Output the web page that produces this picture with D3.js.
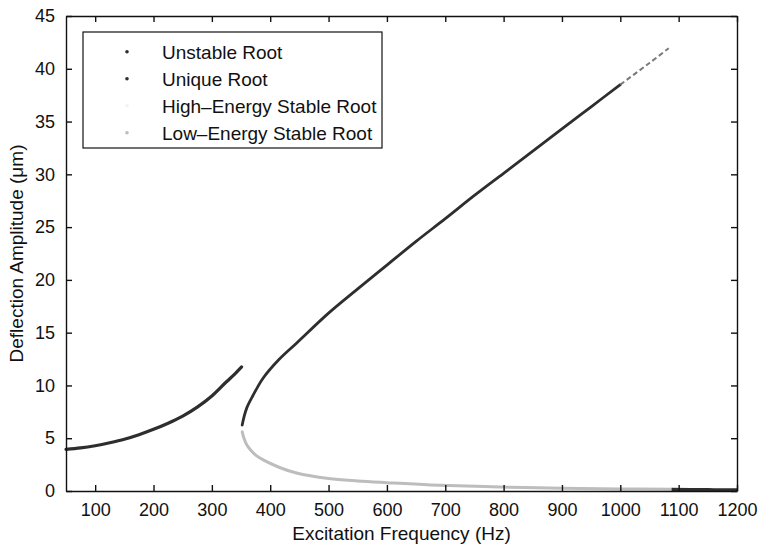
<!DOCTYPE html>
<html>
<head>
<meta charset="utf-8">
<script src="https://cdn.jsdelivr.net/npm/d3@7"></script>
<style>
  html, body { margin: 0; padding: 0; background: #fff; }
  svg { display: block; }
  text { font-family: "Liberation Sans", Arial, Helvetica, sans-serif; fill: #111; }
</style>
</head>
<body>
<svg id="chart" width="760" height="547"></svg>
<script>
// ---------- data ----------
const xTicks = [100, 200, 300, 400, 500, 600, 700, 800, 900, 1000, 1100, 1200];
const yTicks = [0, 5, 10, 15, 20, 25, 30, 35, 40, 45];

const legendLabels = ["Unstable Root", "Unique Root", "High\u2013Energy Stable Root", "Low\u2013Energy Stable Root"];
const seriesColors = ["#2e2e2e", "#2e2e2e", "#f2f2f2", "#bdbdbd"];

// Unique root, left branch (below the jump-up frequency)
const uniqueFreqA = [50, 75, 100, 125, 150, 175, 200, 225, 250, 275, 300, 325, 340, 351];
const uniqueAmpA  = [3.95, 4.08, 4.29, 4.57, 4.9, 5.33, 5.84, 6.42, 7.1, 7.95, 9.0, 10.35, 11.12, 11.75];
// Unique root, right tail (above the jump-down frequency)
const uniqueFreqB = [1088, 1120, 1160, 1200];
const uniqueAmpB  = [0.15, 0.14, 0.12, 0.11];

// Unstable root (dark branch rising from the turning point)
const unstableFreq = [352, 355, 360, 370, 388, 415, 445, 500, 550, 600, 650, 700, 750, 800, 850, 900, 950, 1000, 1050, 1083];
const unstableAmp  = [6.25, 7.0, 7.9, 9.0, 10.7, 12.45, 14.0, 16.85, 19.15, 21.4, 23.65, 25.8, 28.0, 30.1, 32.2, 34.3, 36.4, 38.5, 40.55, 41.95];

// High-energy stable root (printed almost white, not readable in the picture)
const highFreq = [];
const highAmp  = [];

// Low-energy stable root (light grey branch falling from the turning point)
const lowFreq = [352, 355, 360, 366, 375, 388, 415, 445, 500, 550, 600, 675, 780, 900, 1000, 1088];
const lowAmp  = [5.6, 5.0, 4.35, 3.9, 3.4, 2.95, 2.25, 1.7, 1.18, 0.95, 0.79, 0.58, 0.4, 0.27, 0.2, 0.16];

(function () {
// ---------- layout ----------
const svg = d3.select("#chart");
const mLeft = 66, mRight = 737, mTop = 16, mBottom = 491;

const x = d3.scaleLinear().domain([50, 1200]).range([mLeft, mRight]);
const y = d3.scaleLinear().domain([0, 45]).range([mBottom, mTop]);

const zip = (fs, as) => fs.map((f, i) => [f, as[i]]);
const line = d3.line().x(d => x(d[0])).y(d => y(d[1])).curve(d3.curveMonotoneX);
const lineY = d3.line().x(d => x(d[0])).y(d => y(d[1])).curve(d3.curveCatmullRom.alpha(0.5));

const plot = svg.append("g");

// low-energy stable root
plot.append("path").datum(zip(lowFreq, lowAmp))
  .attr("d", lineY).attr("fill", "none")
  .attr("stroke", seriesColors[3]).attr("stroke-width", 3).attr("stroke-linecap", "round");

// high-energy stable root (near white)
if (highFreq.length) {
  plot.append("path").datum(zip(highFreq, highAmp))
    .attr("d", lineY).attr("fill", "none")
    .attr("stroke", seriesColors[2]).attr("stroke-width", 3);
}

// unstable root: solid, then sparse (dashed) at the top end
const unstable = zip(unstableFreq, unstableAmp);
plot.append("path").datum(unstable.filter(d => d[0] <= 1000))
  .attr("d", lineY).attr("fill", "none")
  .attr("stroke", seriesColors[0]).attr("stroke-width", 2.8).attr("stroke-linecap", "round");
plot.append("path").datum(unstable.filter(d => d[0] >= 1000))
  .attr("d", lineY).attr("fill", "none")
  .attr("stroke", "#7a7a7a").attr("stroke-width", 2).attr("stroke-dasharray", "5,3");

// unique root
plot.append("path").datum(zip(uniqueFreqA, uniqueAmpA))
  .attr("d", line).attr("fill", "none")
  .attr("stroke", seriesColors[1]).attr("stroke-width", 3.2).attr("stroke-linecap", "round");
plot.append("path").datum(zip(uniqueFreqB, uniqueAmpB))
  .attr("d", line).attr("fill", "none")
  .attr("stroke", seriesColors[1]).attr("stroke-width", 3.2);

// ---------- axes (box with inward ticks) ----------
const tickLen = 6;
const fmt = d3.format("d");
const axisBottom = d3.axisBottom(x).tickValues(xTicks).tickFormat(fmt).tickSizeInner(-tickLen).tickSizeOuter(0).tickPadding(12);
const axisTop = d3.axisTop(x).tickValues(xTicks).tickSizeInner(-tickLen).tickSizeOuter(0).tickFormat("");
const axisLeft = d3.axisLeft(y).tickValues(yTicks).tickFormat(fmt).tickSizeInner(-tickLen).tickSizeOuter(0).tickPadding(11);
const axisRight = d3.axisRight(y).tickValues(yTicks).tickSizeInner(-tickLen).tickSizeOuter(0).tickFormat("");

function style(g) {
  g.select(".domain").attr("stroke", "#111").attr("stroke-width", 1.4);
  g.selectAll(".tick line").attr("stroke", "#111").attr("stroke-width", 1.4);
  g.selectAll(".tick text").attr("font-size", 18).attr("fill", "#111")
    .attr("font-family", "'Liberation Sans', Arial, Helvetica, sans-serif");
}
svg.append("g").attr("transform", `translate(0,${mBottom})`).call(axisBottom).call(style);
svg.append("g").attr("transform", `translate(0,${mTop})`).call(axisTop).call(style);
svg.append("g").attr("transform", `translate(${mLeft},0)`).call(axisLeft).call(style);
svg.append("g").attr("transform", `translate(${mRight},0)`).call(axisRight).call(style);

// axis titles
svg.append("text").attr("x", (mLeft + mRight) / 2).attr("y", 540)
  .attr("text-anchor", "middle").attr("font-size", 19).text("Excitation Frequency (Hz)");
svg.append("text").attr("transform", `translate(23,${(mTop + mBottom) / 2}) rotate(-90)`)
  .attr("text-anchor", "middle").attr("font-size", 19).text("Deflection Amplitude (\u03bcm)");

// ---------- legend ----------
const lg = svg.append("g");
lg.append("rect").attr("x", 83).attr("y", 32).attr("width", 299).attr("height", 116)
  .attr("fill", "#fff").attr("stroke", "#111").attr("stroke-width", 1.2);
const rowY = d3.scalePoint().domain(legendLabels).range([51.7, 132.7]);
legendLabels.forEach((lab, i) => {
  lg.append("circle").attr("cx", 127).attr("cy", rowY(lab)).attr("r", 1.8).attr("fill", seriesColors[i]);
  lg.append("text").attr("x", 162).attr("y", rowY(lab)).attr("dy", "0.36em")
    .attr("font-size", 19).text(lab);
});
})();
</script>
</body>
</html>
